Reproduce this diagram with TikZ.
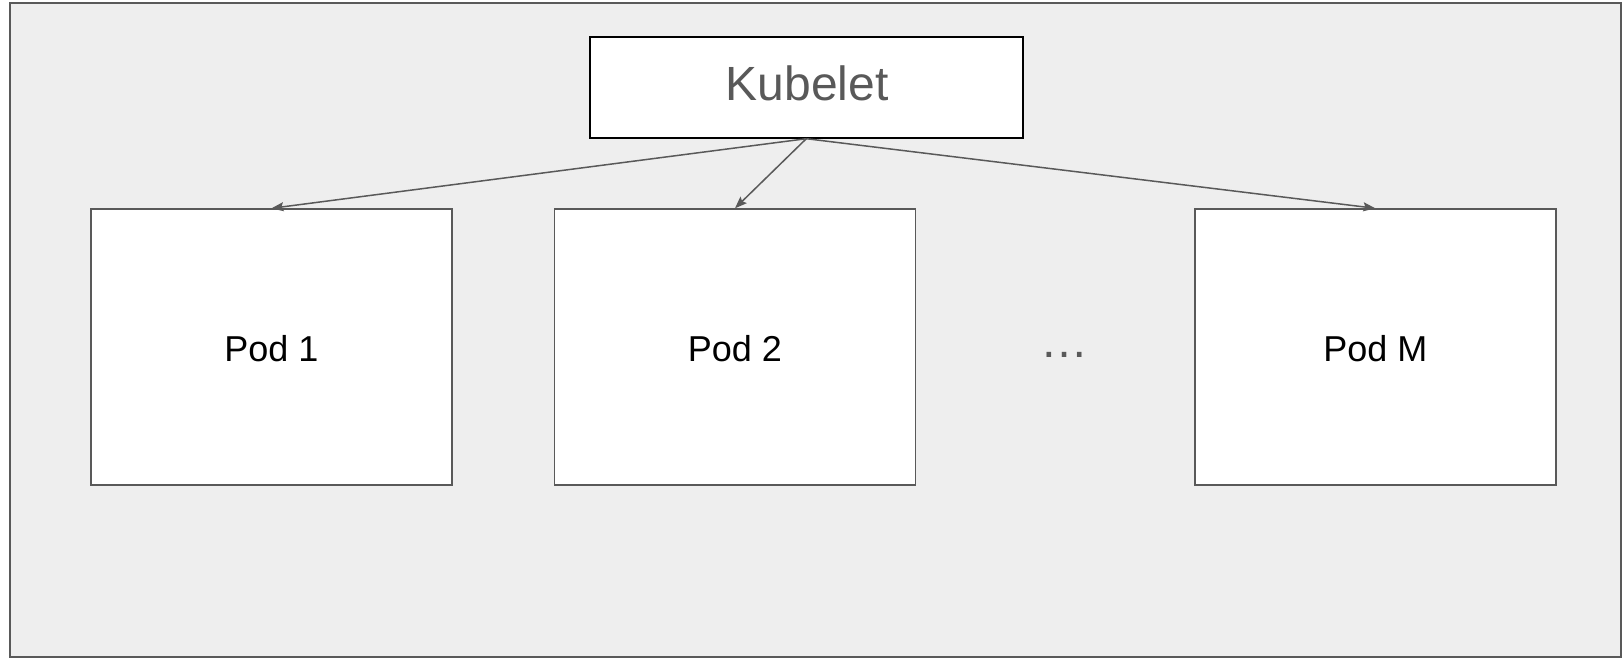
\documentclass[tikz,border=0pt]{standalone}
\usepackage{fontspec}
\setmainfont{Liberation Sans}
\usetikzlibrary{arrows.meta}
\definecolor{panelbg}{HTML}{EEEEEE}
\definecolor{darkgray}{HTML}{595959}
\begin{document}
\begin{tikzpicture}[x=1bp,y=-1bp,
  podbox/.style={draw=darkgray, line width=1.4bp, fill=white, rectangle,
    minimum width=361bp, minimum height=276bp, inner sep=0pt},
  podlabel/.style={font=\fontsize{36bp}{42bp}\selectfont, text=black, anchor=base, inner sep=0pt},
  kubebox/.style={draw=black, line width=2bp, fill=white, rectangle,
    minimum width=432.5bp, minimum height=101bp, inner sep=0pt},
  link/.style={draw=darkgray, line width=1.5bp,
    -{Stealth[length=12bp,width=9bp,inset=2bp]}}
]
  % canvas and outer frame
  \useasboundingbox (0,0) rectangle (1622,658);
  \fill[white] (0,0) rectangle (1622,658);
  \draw[draw=darkgray, line width=2bp, fill=panelbg] (10,3) rectangle (1621,657);

  % kubelet
  \node[kubebox] (kubelet) at (806.3,87.2) {};
  \node[anchor=base, inner sep=0pt, text=darkgray,
        font=\fontsize{48bp}{56bp}\selectfont] (kubelabel) at (807,101) {Kubelet};

  % pods
  \node[podbox] (pod1) at (271.5,347) {};
  \node[podbox] (pod2) at (735,347) {};
  \node[podbox] (podm) at (1375.3,347) {};
  \node[podlabel] (pod1label) at (271.5,361) {Pod 1};
  \node[podlabel] (pod2label) at (735,361) {Pod 2};
  \node[podlabel] (podmlabel) at (1375.3,361) {Pod M};
  \node[anchor=base, inner sep=0pt, text=darkgray,
        font=\fontsize{48bp}{56bp}\selectfont] (dots) at (1064.5,357) {…};

  % connectors
  \draw[link] (kubelet.south) -- (pod1.north);
  \draw[link] (kubelet.south) -- (pod2.north);
  \draw[link] (kubelet.south) -- (podm.north);
\end{tikzpicture}
\end{document}
